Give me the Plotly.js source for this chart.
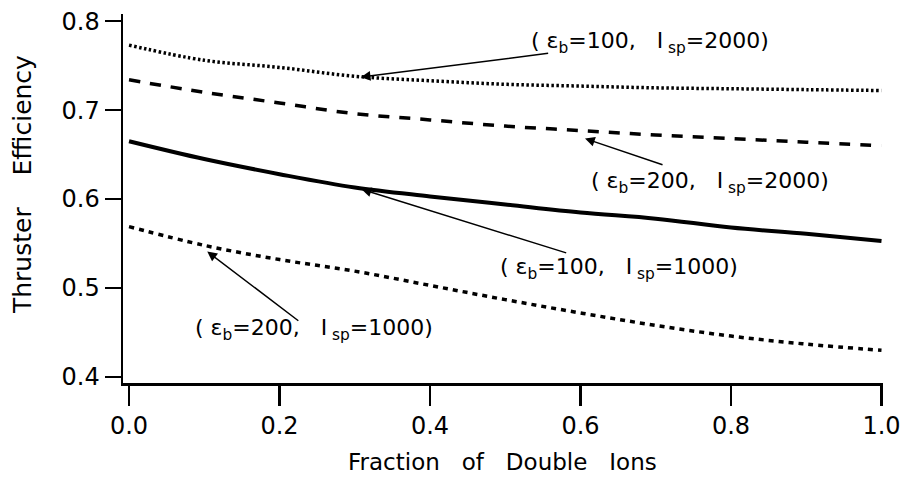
<!DOCTYPE html>
<html>
<head>
<meta charset="utf-8">
<script src="https://cdn.plot.ly/plotly-3.0.1.min.js"></script>
<style>html,body{margin:0;padding:0;background:#fff;}#chart{width:905px;height:485px;}</style>
</head>
<body>
<div id="chart"></div>
<script>
// Fraction of double ions
const fraction = [0.0, 0.1, 0.2, 0.3, 0.4, 0.5, 0.6, 0.7, 0.8, 0.9, 1.0];
// Thruster efficiency for each case
const eb100_isp2000 = [0.773, 0.756, 0.748, 0.738, 0.733, 0.729, 0.727, 0.725, 0.724, 0.723, 0.722];
const eb200_isp2000 = [0.734, 0.720, 0.708, 0.696, 0.689, 0.682, 0.677, 0.672, 0.668, 0.664, 0.660];
const eb100_isp1000 = [0.665, 0.645, 0.628, 0.613, 0.603, 0.594, 0.585, 0.578, 0.568, 0.561, 0.553];
const eb200_isp1000 = [0.569, 0.548, 0.532, 0.519, 0.503, 0.487, 0.472, 0.458, 0.446, 0.437, 0.430];
const yTicks = [0.4, 0.5, 0.6, 0.7, 0.8];
const xTicks = [0.0, 0.2, 0.4, 0.6, 0.8, 1.0];
const S = '\u00a0';
const caseLabels = [
  '(' + S + 'ε<sub>b</sub>=100,' + S + S + S + 'I<sub>' + S + 'sp</sub>=2000)',
  '(' + S + 'ε<sub>b</sub>=200,' + S + S + S + 'I<sub>' + S + 'sp</sub>=2000)',
  '(' + S + 'ε<sub>b</sub>=100,' + S + S + S + 'I<sub>' + S + 'sp</sub>=1000)',
  '(' + S + 'ε<sub>b</sub>=200,' + S + S + S + 'I<sub>' + S + 'sp</sub>=1000)'
];
const xTitle = 'Fraction' + S + S + S + 'of' + S + S + S + 'Double' + S + S + S + 'Ions';
const yTitle = 'Thruster' + S + S + S + S + 'Efficiency';

const traces = [
  {x: fraction, y: eb100_isp2000, mode: 'lines', line: {color: '#000', width: 3.5, dash: '2.5px,2.5px', shape: 'spline'}},
  {x: fraction, y: eb200_isp2000, mode: 'lines', line: {color: '#000', width: 3.5, dash: '11px,10px', shape: 'spline'}},
  {x: fraction, y: eb100_isp1000, mode: 'lines', line: {color: '#000', width: 4, shape: 'spline'}},
  {x: fraction, y: eb200_isp1000, mode: 'lines', line: {color: '#000', width: 3.5, dash: '5px,5px', shape: 'spline'}}
];

const fam = 'DejaVu Sans, Verdana, sans-serif';
function f(size) { return {family: fam, size: size, color: '#000'}; }

function arrow(label, tx, ty, hx, hy, lx, ly) {
  return [
    {x: hx, y: hy, ax: tx, ay: ty, xref: 'x', yref: 'y', axref: 'x', ayref: 'y',
     text: '', showarrow: true, arrowhead: 2, arrowsize: 1.3, arrowwidth: 1.5, arrowcolor: '#000'},
    {x: lx, y: ly, xref: 'x', yref: 'y', text: label, showarrow: false,
     font: f(22), xanchor: 'center', yanchor: 'middle'}
  ];
}

const annotations = [].concat(
  arrow(caseLabels[0], 0.559, 0.764, 0.308, 0.737, 0.693, 0.776),
  arrow(caseLabels[1], 0.711, 0.638, 0.606, 0.668, 0.772, 0.619),
  arrow(caseLabels[2], 0.583, 0.539, 0.309, 0.611, 0.651, 0.522),
  arrow(caseLabels[3], 0.227, 0.462, 0.104, 0.541, 0.246, 0.453),
  [
    {xref: 'paper', yref: 'paper', x: 0.499, y: -0.214, text: xTitle, showarrow: false,
     font: f(23), xanchor: 'center', yanchor: 'middle'},
    {xref: 'paper', yref: 'paper', x: -0.133, y: 0.539, text: yTitle, showarrow: false,
     textangle: -90, font: f(25), xanchor: 'center', yanchor: 'middle'}
  ]
);

const layout = {
  width: 905, height: 485,
  margin: {l: 123, r: 22, t: 14, b: 102},
  paper_bgcolor: '#fff', plot_bgcolor: '#fff',
  showlegend: false,
  font: f(20),
  xaxis: {
    range: [-0.008, 1.002], tickvals: xTicks, ticktext: xTicks.map(v => v.toFixed(1)),
    showgrid: false, zeroline: false, showline: true, linecolor: '#000', linewidth: 2.5,
    ticks: 'outside', ticklen: 20, tickwidth: 2.5, tickcolor: '#000',
    tickfont: f(24)
  },
  yaxis: {
    range: [0.3933, 0.808], tickvals: yTicks, ticktext: yTicks.map(v => v.toFixed(1)),
    showgrid: false, zeroline: false, showline: true, linecolor: '#000', linewidth: 2.5,
    ticks: 'outside', ticklen: 16, tickwidth: 2.5, tickcolor: '#000',
    tickfont: f(24)
  },
  annotations: annotations
};

Plotly.newPlot('chart', traces, layout, {displayModeBar: false, staticPlot: true});
</script>
</body>
</html>
